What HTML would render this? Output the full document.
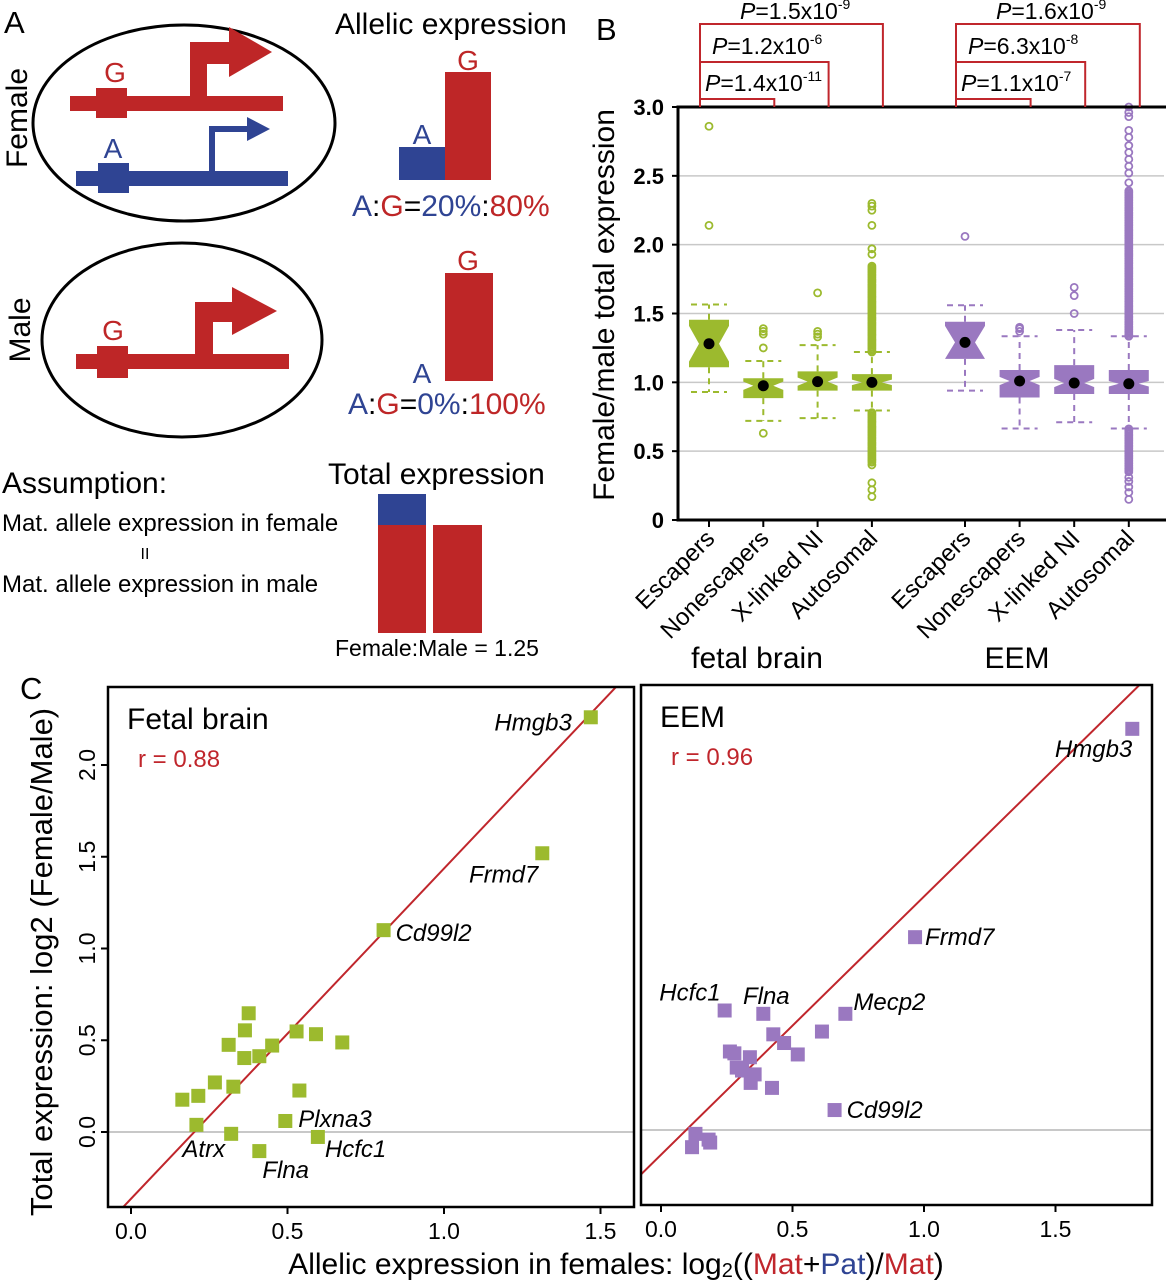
<!DOCTYPE html>
<html><head><meta charset="utf-8"><style>
html,body{margin:0;padding:0;background:#fff;}
svg{display:block;font-family:"Liberation Sans",Arial,sans-serif;}
</style></head><body>
<svg id="fig" width="1166" height="1280" viewBox="0 0 1166 1280" xmlns="http://www.w3.org/2000/svg">
<g id="panelA">
<text x="4" y="33" font-size="31">A</text>
<text transform="translate(27,118) rotate(-90)" text-anchor="middle" font-size="30">Female</text>
<ellipse cx="184" cy="123" rx="151" ry="98" fill="none" stroke="#000" stroke-width="3"/>
<g fill="#be2627">
<rect x="70" y="96" width="213" height="15"/><rect x="96" y="88" width="31" height="30"/>
<rect x="190" y="42" width="17" height="62"/><rect x="190" y="42" width="45" height="22"/>
<polygon points="229,27 272,52 229,77"/>
</g>
<text x="115" y="82" text-anchor="middle" font-size="28" fill="#be2627">G</text>
<g fill="#2f4493">
<rect x="76" y="171" width="212" height="15"/><rect x="98" y="163" width="31" height="30"/>
<rect x="209" y="126" width="6" height="48"/><rect x="209" y="126" width="40" height="6"/>
<polygon points="247,117 270,129 247,141"/>
</g>
<text x="113" y="158" text-anchor="middle" font-size="28" fill="#2f4493">A</text>
<text x="335" y="34" font-size="30">Allelic expression</text>
<rect x="399" y="147" width="47" height="33" fill="#2f4493"/>
<rect x="445" y="72" width="46" height="108" fill="#be2627"/>
<text x="422" y="144" text-anchor="middle" font-size="28" fill="#2f4493">A</text>
<text x="468" y="70" text-anchor="middle" font-size="28" fill="#be2627">G</text>
<text x="352" y="216" font-size="30"><tspan fill="#2f4493">A</tspan><tspan>:</tspan><tspan fill="#be2627">G</tspan><tspan>=</tspan><tspan fill="#2f4493">20%</tspan><tspan>:</tspan><tspan fill="#be2627">80%</tspan></text>

<text transform="translate(30,330) rotate(-90)" text-anchor="middle" font-size="30">Male</text>
<ellipse cx="182" cy="340" rx="140" ry="97" fill="none" stroke="#000" stroke-width="3"/>
<g fill="#be2627">
<rect x="76" y="354" width="213" height="15"/><rect x="97" y="346" width="31" height="32"/>
<rect x="195" y="302" width="18" height="60"/><rect x="195" y="302" width="45" height="20"/>
<polygon points="232,287 277,311 232,335"/>
</g>
<text x="113" y="340" text-anchor="middle" font-size="28" fill="#be2627">G</text>
<rect x="445" y="273" width="48" height="108" fill="#be2627"/>
<text x="422" y="383" text-anchor="middle" font-size="28" fill="#2f4493">A</text>
<text x="468" y="270" text-anchor="middle" font-size="28" fill="#be2627">G</text>
<text x="348" y="414" font-size="30"><tspan fill="#2f4493">A</tspan><tspan>:</tspan><tspan fill="#be2627">G</tspan><tspan>=</tspan><tspan fill="#2f4493">0%</tspan><tspan>:</tspan><tspan fill="#be2627">100%</tspan></text>

<text x="2" y="493" font-size="30">Assumption:</text>
<text x="2" y="531" font-size="24">Mat. allele expression in female</text>
<text x="145" y="559" text-anchor="middle" font-size="16">II</text>
<text x="2" y="592" font-size="24">Mat. allele expression in male</text>
<text x="328" y="484" font-size="30">Total expression</text>
<rect x="378" y="494" width="48" height="32" fill="#2f4493"/>
<rect x="378" y="525" width="48" height="108" fill="#be2627"/>
<rect x="433" y="525" width="49" height="108" fill="#be2627"/>
<text x="335" y="656" font-size="23">Female:Male = 1.25</text>
</g>

<g id="panelB"></g>
<g id="panelC"></g>
</svg>
<script>
// ---------- Panel B data ----------
const bCategories = ["Escapers","Nonescapers","X-linked NI","Autosomal","Escapers","Nonescapers","X-linked NI","Autosomal"];
const bGroups = ["fetal brain","fetal brain","fetal brain","fetal brain","EEM","EEM","EEM","EEM"];
const bQ1 = [1.11,0.885,0.94,0.94,1.17,0.89,0.915,0.915];
const bMedian = [1.28,0.975,1.005,1.0,1.29,1.01,0.995,0.99];
const bQ3 = [1.455,1.03,1.08,1.06,1.44,1.09,1.125,1.09];
const bWhiskLo = [0.93,0.72,0.74,0.795,0.94,0.665,0.71,0.665];
const bWhiskHi = [1.565,1.155,1.27,1.22,1.56,1.335,1.38,1.335];
const bNotch = [0.13,0.03,0.03,0.02,0.12,0.03,0.03,0.02];
const bOutliers = [[2.14,2.86],[0.63,1.25,1.35,1.37,1.39],[1.33,1.35,1.37,1.65],[0.40,0.27,0.22,0.17,1.93,1.97,2.14,2.25,2.28,2.30],[2.06],[1.37,1.39,1.40],[1.50,1.63,1.69],[0.31,0.28,0.24,0.20,0.15,2.45,2.52,2.57,2.62,2.67,2.72,2.78,2.83,2.93,2.96,3.0]];
const bDenseLo = [null,null,null,[0.42,0.79],null,null,null,[0.35,0.665]];
const bDenseHi = [null,null,null,[1.22,1.85],null,null,null,[1.335,2.40]];
const bTicks = [0,0.5,1.0,1.5,2.0,2.5,3.0];
const bTickLabels = ["0","0.5","1.0","1.5","2.0","2.5","3.0"];
const bPvals = ["1.4x10","1.2x10","1.5x10","1.1x10","6.3x10","1.6x10"];
const bPexp = ["-11","-6","-9","-7","-8","-9"];

// ---------- Panel C data ----------
const cFbX = [1.469,1.314,0.807,0.376,0.364,0.312,0.451,0.362,0.410,0.529,0.591,0.675,0.268,0.327,0.215,0.164,0.538,0.493,0.209,0.320,0.597,0.410];
const cFbY = [2.26,1.519,1.10,0.647,0.554,0.475,0.471,0.403,0.413,0.548,0.533,0.488,0.270,0.247,0.197,0.176,0.226,0.060,0.039,-0.010,-0.027,-0.104];
const cFbLabels = ["Hmgb3","Frmd7","Cd99l2","","","","","","","","","","","","","","","Plxna3","Atrx","","Hcfc1","Flna"];
const cEemX = [1.792,0.966,0.701,0.242,0.389,0.660,0.612,0.427,0.468,0.520,0.262,0.279,0.338,0.288,0.308,0.356,0.341,0.422,0.131,0.181,0.187,0.118];
const cEemY = [2.172,1.044,0.629,0.647,0.629,0.108,0.533,0.518,0.471,0.409,0.425,0.415,0.394,0.338,0.322,0.301,0.255,0.228,-0.021,-0.052,-0.068,-0.093];
const cEemLabels = ["Hmgb3","Frmd7","Mecp2","Hcfc1","Flna","Cd99l2","","","","","","","","","","","","","","","",""];
const cFbFit = [1.80,-0.364];
const cEemFit = [1.398,-0.134];
const cXTicks = [0,0.5,1.0,1.5];
const cXTickLabels = ["0.0","0.5","1.0","1.5"];
const cYTicks = [0,0.5,1.0,1.5,2.0];
const cYTickLabels = ["0.0","0.5","1.0","1.5","2.0"];

const NS="http://www.w3.org/2000/svg";
function mk(tag,attrs,parent){const e=document.createElementNS(NS,tag);for(const k in attrs)e.setAttribute(k,attrs[k]);parent.appendChild(e);return e;}

// ===== Panel B =====
(function(){
const g=document.getElementById('panelB');
const L=678,R=1164,T=107,B=520;
const yS=v=>B-v*(B-T)/3.0;
const xPos=i=>i<4?709+i*54.3:965+(i-4)*54.6;
const GREEN="#9cba2e",PURPLE="#9a78c0",RED="#c0262c";
let t=mk('text',{x:596,y:40,'font-size':31},g);t.textContent="B";


bTicks.forEach((v,i)=>{
  if(v>0){const gl=mk('line',{x1:L,x2:R,y1:yS(v),y2:yS(v),stroke:"#c8c8c8","stroke-width":1.5},g);
  
  }
  const tk=mk('line',{x1:L-6,x2:L,y1:yS(v),y2:yS(v),stroke:"#000","stroke-width":2},g);
  
  
  const tl=mk('text',{x:L-14,y:yS(v)+8,'text-anchor':'end','font-size':22,'font-weight':'bold'},g);tl.textContent=bTickLabels[i];
  
  
});
const yt=mk('text',{transform:`translate(614,305) rotate(-90)`,'text-anchor':'middle','font-size':30},g);yt.textContent="Female/male total expression";


bCategories.forEach((c,i)=>{
  const x=xPos(i),col=i<4?GREEN:PURPLE,w=20,nw=10;
  const bx=mk('g',{},g);
  
  
  const ds="6,5";
  mk('line',{x1:x,x2:x,y1:yS(bQ3[i]),y2:yS(bWhiskHi[i]),stroke:col,"stroke-width":2,"stroke-dasharray":ds},bx);
  mk('line',{x1:x,x2:x,y1:yS(bQ1[i]),y2:yS(bWhiskLo[i]),stroke:col,"stroke-width":2,"stroke-dasharray":ds},bx);
  mk('line',{x1:x-18,x2:x+18,y1:yS(bWhiskHi[i]),y2:yS(bWhiskHi[i]),stroke:col,"stroke-width":2,"stroke-dasharray":ds},bx);
  mk('line',{x1:x-18,x2:x+18,y1:yS(bWhiskLo[i]),y2:yS(bWhiskLo[i]),stroke:col,"stroke-width":2,"stroke-dasharray":ds},bx);
  const m=bMedian[i],n=bNotch[i];
  const nh=Math.min(m+n,bQ3[i]),nl=Math.max(m-n,bQ1[i]);
  const pts=[[x-w,yS(bQ3[i])],[x+w,yS(bQ3[i])],[x+w,yS(nh)],[x+nw,yS(m)],[x+w,yS(nl)],[x+w,yS(bQ1[i])],[x-w,yS(bQ1[i])],[x-w,yS(nl)],[x-nw,yS(m)],[x-w,yS(nh)]];
  mk('polygon',{points:pts.map(p=>p.join(',')).join(' '),fill:col},bx);
  const pushO=v=>mk('circle',{cx:x,cy:yS(v),r:3.5,fill:"none",stroke:col,"stroke-width":1.8},bx);
  [bDenseLo[i],bDenseHi[i]].forEach(rg=>{if(rg){for(let v=rg[0];v<=rg[1];v+=0.012)pushO(v);}});
  bOutliers[i].forEach(pushO);
  mk('circle',{cx:x,cy:yS(m),r:5.5,fill:"#000"},bx);
  const tk=mk('line',{x1:x,x2:x,y1:B,y2:B+7,stroke:"#000","stroke-width":2},g);
  
  
  const cl=mk('text',{transform:`translate(${x+7},${B+20}) rotate(-45)`,'text-anchor':'end','font-size':24},g);cl.textContent=c;
  
  
});
mk('rect',{x:L,y:T,width:R-L+4,height:B-T,fill:"none",stroke:"#000","stroke-width":3},g);
[["fetal brain",757],["EEM",1017]].forEach(a=>{const gt=mk('text',{x:a[1],y:668,'text-anchor':'middle','font-size':30},g);gt.textContent=a[0];
  
  });
const brY=[99,62,24];
[[0,1],[0,2],[0,3],[4,5],[4,6],[4,7]].forEach((p,k)=>{
  const lvl=k%3,x1=xPos(p[0])-9,x2=xPos(p[1])+11,y=brY[lvl];
  const br=mk('polyline',{points:`${x1},${T} ${x1},${y} ${x2},${y} ${x2},${T}`,fill:"none",stroke:RED,"stroke-width":2},g);
  
  
  const tx=x1+(lvl==2?40:(lvl==1?12:5)),ty=lvl==2?19:y-8;
  const pt=mk('text',{x:tx,y:ty,'font-size':23},g);
  
  
  const s1=mk('tspan',{'font-style':'italic'},pt);s1.textContent="P";
  const s2=mk('tspan',{},pt);s2.textContent="="+bPvals[k];
  const s3=mk('tspan',{dy:-10,'font-size':14},pt);s3.textContent=bPexp[k];
});
})();

// ===== Panel C =====
(function(){
const g=document.getElementById('panelC');
const GREEN="#9cba2e",PURPLE="#9a78c0",RED="#c0262c";
let t=mk('text',{x:20,y:699,'font-size':31},g);t.textContent="C";


function panel(name,box,x0,xs,y0,ys,xs_,ys_,labels,fit,col,title,r,labelPos,ticksY){
  const gp=mk('g',{},g);
  
  
  const X=v=>x0+v*xs,Y=v=>y0-v*ys;
  const cp='clip-'+name;
  const cl=mk('clipPath',{id:cp},gp);mk('rect',{x:box[0],y:box[1],width:box[2]-box[0],height:box[3]-box[1]},cl);
  const zl=mk('line',{x1:box[0],x2:box[2],y1:Y(0),y2:Y(0),stroke:"#b5b5b5","stroke-width":1.5},gp);
  
  
  const xa=(box[0]-x0)/xs,xb=(box[2]-x0)/xs;
  const fl=mk('line',{x1:X(xa),y1:Y(fit[0]*xa+fit[1]),x2:X(xb),y2:Y(fit[0]*xb+fit[1]),stroke:RED,"stroke-width":2,'clip-path':`url(#${cp})`},gp);
  
  
  xs_.forEach((v,i)=>{
    const p=mk('rect',{x:X(v)-7,y:Y(ys_[i])-7,width:14,height:14,fill:col},gp);
    
    
    if(labels[i]){const lp=labelPos[labels[i]];
      const lt=mk('text',{x:X(v)+lp[0],y:Y(ys_[i])+lp[1],'text-anchor':lp[2],'font-size':24,'font-style':'italic'},gp);lt.textContent=labels[i];
      
      }
  });
  mk('rect',{x:box[0],y:box[1],width:box[2]-box[0],height:box[3]-box[1],fill:"none",stroke:"#000","stroke-width":2.5},gp);
  const tt=mk('text',{x:box[0]+19,y:box[1]+42,'font-size':30},gp);tt.textContent=title;
  
  
  const rt=mk('text',{x:box[0]+30,y:box[1]+80,'font-size':24,fill:RED},gp);rt.textContent=r;
  
  
  cXTicks.forEach((v,i)=>{
    const tk=mk('line',{x1:X(v),x2:X(v),y1:box[3],y2:box[3]+7,stroke:"#000","stroke-width":2},gp);
    
    
    const tl=mk('text',{x:X(v),y:box[3]+32,'text-anchor':'middle','font-size':23},gp);tl.textContent=cXTickLabels[i];
    
    
  });
  if(ticksY){cYTicks.forEach((v,i)=>{
    const tk=mk('line',{x1:box[0]-7,x2:box[0],y1:Y(v),y2:Y(v),stroke:"#000","stroke-width":2},gp);
    
    
    const tl=mk('text',{transform:`translate(${box[0]-13},${Y(v)}) rotate(-90)`,'text-anchor':'middle','font-size':23},gp);tl.textContent=cYTickLabels[i];
    
    
  });}
}
panel('fetal-brain-scatter',[108,687,634,1207],131,313,1132,183.5,cFbX,cFbY,cFbLabels,cFbFit,GREEN,"Fetal brain","r = 0.88",
 {"Hmgb3":[-19,13,'end'],"Frmd7":[-4,29,'end'],"Cd99l2":[12,11,'start'],"Plxna3":[13,6,'start'],"Atrx":[-14,32,'start'],"Hcfc1":[7,20,'start'],"Flna":[3,27,'start']},true);
panel('eem-scatter',[641,685,1152,1205],661,263,1130,184.7,cEemX,cEemY,cEemLabels,cEemFit,PURPLE,"EEM","r = 0.96",
 {"Hmgb3":[0,28,'end'],"Frmd7":[10,8,'start'],"Mecp2":[8,-4,'start'],"Hcfc1":[-4,-10,'end'],"Flna":[3,-10,'middle'],"Cd99l2":[12,8,'start']},false);
const yt=mk('text',{transform:`translate(52,962) rotate(-90)`,'text-anchor':'middle','font-size':31},g);yt.textContent="Total expression: log2 (Female/Male)";


const xt=mk('text',{x:616,y:1274,'text-anchor':'middle','font-size':30},g);


[["Allelic expression in females: log",null,0],["2",null,1],["((",null,0],["Mat",RED,0],["+",null,0],["Pat","#2f4493",0],[")/",null,0],["Mat",RED,0],[")",null,0]].forEach(s=>{
  const sp=mk('tspan',s[2]?{'font-size':20,dy:3}:{},xt);
  if(s[1])sp.setAttribute('fill',s[1]);
  if(!s[2]&&s[0]==="(("){sp.setAttribute('dy',-3);}
  sp.textContent=s[0];
});
})();
</script>
</body></html>
